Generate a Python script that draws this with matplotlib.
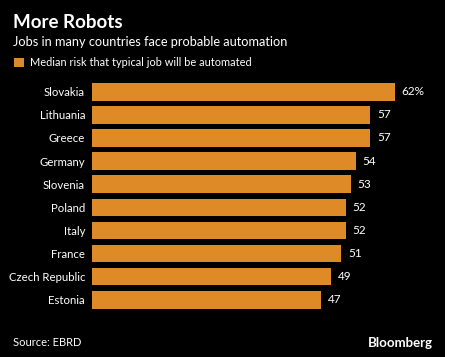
import matplotlib.pyplot as plt
from matplotlib.patches import Rectangle

plt.rcParams["font.family"] = ["Lato", "DejaVu Sans"]

# ---------------- data ----------------
countries = ["Slovakia", "Lithuania", "Greece", "Germany", "Slovenia",
             "Poland", "Italy", "France", "Czech Republic", "Estonia"]
risk = [62, 57, 57, 54, 53, 52, 52, 51, 49, 47]
value_labels = ["62%", "57", "57", "54", "53", "52", "52", "51", "49", "47"]

BAR_COLOR = "#DD8A27"
W, H = 467, 357

fig = plt.figure(figsize=(W / 100, H / 100), dpi=100, facecolor="white")

# black panel (image has a white strip on the right)
fig.patches.append(Rectangle((0, 0), 445 / W, 1, transform=fig.transFigure,
                             facecolor="black", edgecolor="none", zorder=-1))

# axes placed so that bars start at x=92px
ax_left, ax_right = 92, 440
ax_top, ax_bottom = 80.2, 311.3
ax = fig.add_axes([ax_left / W, 1 - ax_bottom / H,
                   (ax_right - ax_left) / W, (ax_bottom - ax_top) / H])
ax.set_zorder(2)
ax.set_facecolor("none")
ax.set_xlim(0, (ax_right - ax_left) / 4.88)
ax.set_ylim(len(countries) - 0.5, -0.5)

ypos = list(range(len(countries)))
ax.barh(ypos, risk, height=0.76, color=BAR_COLOR, edgecolor="none")

for y, v, lab in zip(ypos, risk, value_labels):
    ax.annotate(lab, (v, y), xytext=(5, 0), textcoords="offset points",
                va="center", ha="left", color="white", fontsize=8.5)

ax.set_yticks(ypos)
ax.set_yticklabels(countries, color="white", fontsize=8.2)
ax.tick_params(axis="y", length=0, pad=5)
ax.set_xticks([])
for s in ax.spines.values():
    s.set_visible(False)

# ---------------- header / footer ----------------
fig.text(13 / W, 1 - 22 / H, "More Robots", color="white", fontsize=13.5,
         fontweight="bold", va="center", ha="left", zorder=3)
fig.text(13 / W, 1 - 42 / H, "Jobs in many countries face probable automation",
         color="white", fontsize=9.2, va="center", ha="left", zorder=3)
fig.patches.append(Rectangle((14 / W, 1 - 67 / H), 10 / W, 9 / H,
                             transform=fig.transFigure, facecolor=BAR_COLOR,
                             edgecolor="none", zorder=3))
fig.text(30 / W, 1 - 62 / H, "Median risk that typical job will be automated",
         color="white", fontsize=7.9, va="center", ha="left", zorder=3)

fig.text(13 / W, 1 - 343 / H, "Source: EBRD", color="white", fontsize=8,
         va="center", ha="left", zorder=3)
fig.text(433 / W, 1 - 343 / H, "Bloomberg", color="white", fontsize=9.5,
         fontweight="bold", va="center", ha="right", zorder=3)

fig.savefig("out.png", dpi=100, facecolor=fig.get_facecolor())
